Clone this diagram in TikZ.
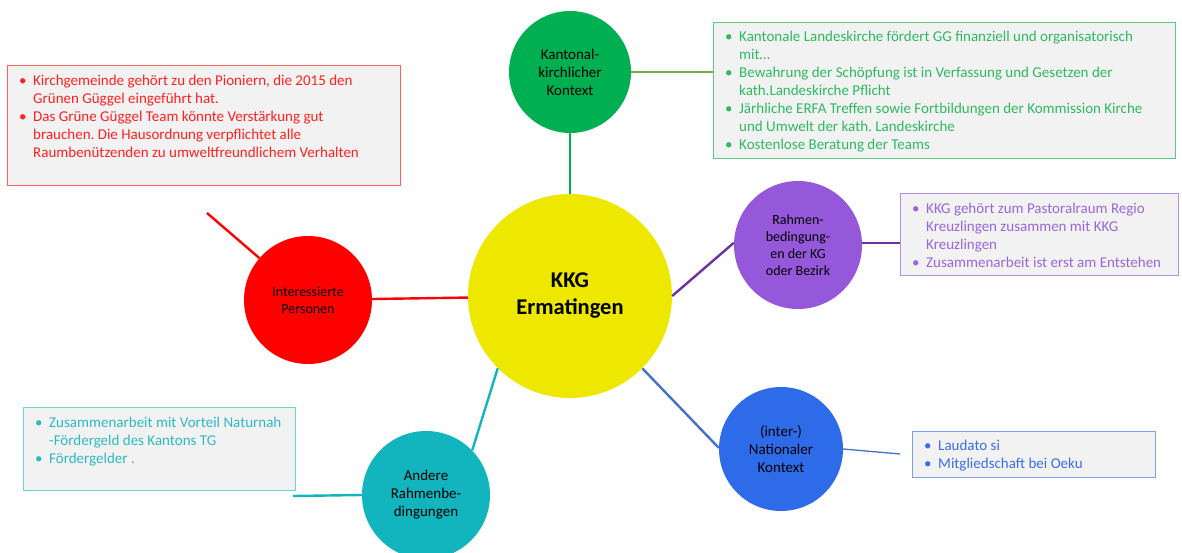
\documentclass[tikz,border=0pt]{standalone}
\usepackage{fontspec}
\setmainfont{Carlito}
\definecolor{kyellow}{HTML}{EEE800}
\definecolor{kred}{HTML}{FF0000}
\definecolor{kgreen}{HTML}{00B050}
\definecolor{kpurple}{HTML}{9658DA}
\definecolor{kblue}{HTML}{2E6BE8}
\definecolor{kteal}{HTML}{12B5BD}
\definecolor{lpurple}{HTML}{7030A0}
\definecolor{lblue}{HTML}{4472C4}
\definecolor{lolive}{HTML}{70AD47}
\definecolor{boxgray}{HTML}{F2F2F2}
\definecolor{tred}{HTML}{FF2020}
\definecolor{tgreen}{HTML}{2DBA60}
\definecolor{tpurple}{HTML}{9966DD}
\definecolor{tblue}{HTML}{3A6FE8}
\definecolor{tteal}{HTML}{2DBAC2}
\definecolor{bred}{HTML}{FF6060}
\definecolor{bgreen}{HTML}{5CCB80}
\definecolor{bpurple}{HTML}{B38FE6}
\definecolor{bblue}{HTML}{7AA2F0}
\definecolor{bteal}{HTML}{6CD3D9}
\newcommand\bulmk{\strut\makebox[14pt][l]{\textbullet}}
\newcommand\bulin{\hspace*{14pt}}
\frenchspacing
\begin{document}
\begin{tikzpicture}[x=1pt,y=-1pt,
  circ/.style={circle, minimum size=#1, inner sep=0pt, align=center, text=black,
    font=\fontsize{15}{18}\selectfont},
  infobox/.style={draw=#1, fill=boxgray, line width=1.2pt, anchor=north west, inner sep=0pt},
  infotext/.style={anchor=north west, inner sep=0pt, align=left, text=#1,
    font=\fontsize{15}{18}\selectfont\frenchspacing},
  link/.style={line width=2.4pt}]
\useasboundingbox (0,0) rectangle (1182,553);

% circles
\node[circ=204pt, fill=kyellow, font=\fontsize{22.5}{27}\selectfont\bfseries] (center) at (570,296) {KKG\\Ermatingen};
\node[circ=122pt, fill=kgreen] (green) at (570,72) {Kantonal-\\kirchlicher\\Kontext};
\node[circ=128pt, fill=kred, font=\fontsize{14}{17}\selectfont] (red) at (308,300) {Interessierte\\Personen};
\node[circ=128pt, fill=kpurple, font=\fontsize{14}{17}\selectfont] (purple) at (798,245) {Rahmen-\\bedingung-\\en der KG\\oder Bezirk};
\node[circ=124pt, fill=kblue] (blue) at (781,449) {(inter-)\\Nationaler\\Kontext};
\node[circ=128pt, fill=kteal] (teal) at (426,495) {Andere\\Rahmenbe-\\dingungen};

% boxes
\node[infobox=bred, minimum width=393pt, minimum height=120pt] (rbox) at (7,65) {};
\node[infobox=bgreen, minimum width=462pt, minimum height=136pt] (gbox) at (713,22) {};
\node[infobox=bpurple, minimum width=278pt, minimum height=82pt] (pbox) at (900,193) {};
\node[infobox=bblue, minimum width=243pt, minimum height=46pt] (bbox) at (912,431) {};
\node[infobox=bteal, minimum width=272pt, minimum height=83pt] (tbox) at (23,407) {};

% box texts
\node[infotext=tred, xshift=12pt, yshift=-7.5pt] (rtext) at (rbox.north west) {%
\bulmk Kirchgemeinde gehört zu den Pioniern, die 2015 den\\
\bulin Grünen Güggel eingeführt hat.\\
\bulmk Das Grüne Güggel Team könnte Verstärkung gut\\
\bulin brauchen. Die Hausordnung verpflichtet alle\\
\bulin Raumbenützenden zu umweltfreundlichem Verhalten};
\node[infotext=tgreen, xshift=12pt, yshift=-7pt] (gtext) at (gbox.north west) {%
\bulmk Kantonale Landeskirche fördert GG finanziell und organisatorisch\\
\bulin mit…\\
\bulmk Bewahrung der Schöpfung ist in Verfassung und Gesetzen der\\
\bulin kath.Landeskirche Pflicht\\
\bulmk Järhliche ERFA Treffen sowie Fortbildungen der Kommission Kirche\\
\bulin und Umwelt der kath. Landeskirche\\
\bulmk Kostenlose Beratung der Teams};
\node[infotext=tpurple, xshift=12pt, yshift=-7.5pt] (ptext) at (pbox.north west) {%
\bulmk KKG gehört zum Pastoralraum Regio\\
\bulin Kreuzlingen zusammen mit KKG\\
\bulin Kreuzlingen\\
\bulmk Zusammenarbeit ist erst am Entstehen};
\node[infotext=tblue, xshift=12pt, yshift=-6.5pt] (btext) at (bbox.north west) {%
\bulmk Laudato si\\
\bulmk Mitgliedschaft bei Oeku};
\node[infotext=tteal, xshift=12pt, yshift=-8pt] (ttext) at (tbox.north west) {%
\bulmk Zusammenarbeit mit Vorteil Naturnah\\
\bulin -Fördergeld des Kantons TG\\
\bulmk Fördergelder .};

% free ends
\coordinate (redend) at (207,213);
\coordinate (blueend) at (900,454);
\coordinate (tealend) at (293,496);

% connectors
\draw[link, kred] (red) -- (center);
\draw[link, kred] (redend) -- (red);
\draw[link, kgreen] (green) -- (center);
\draw[link, lolive] (green.east) -- (green.east -| gbox.west);
\draw[link, lpurple] (center.0) -- (purple.178);
\draw[link, lpurple] (purple.2) -- (purple.2 -| pbox.west);
\draw[link, lblue] (center.-45) -- (blue.179);
\draw[lblue, line width=1.3pt] (blue.east) -- (blueend);
\draw[link, kteal] (center.-135) -- (teal.44);
\draw[link, kteal] (teal.west) -- (tealend);
\end{tikzpicture}
\end{document}
